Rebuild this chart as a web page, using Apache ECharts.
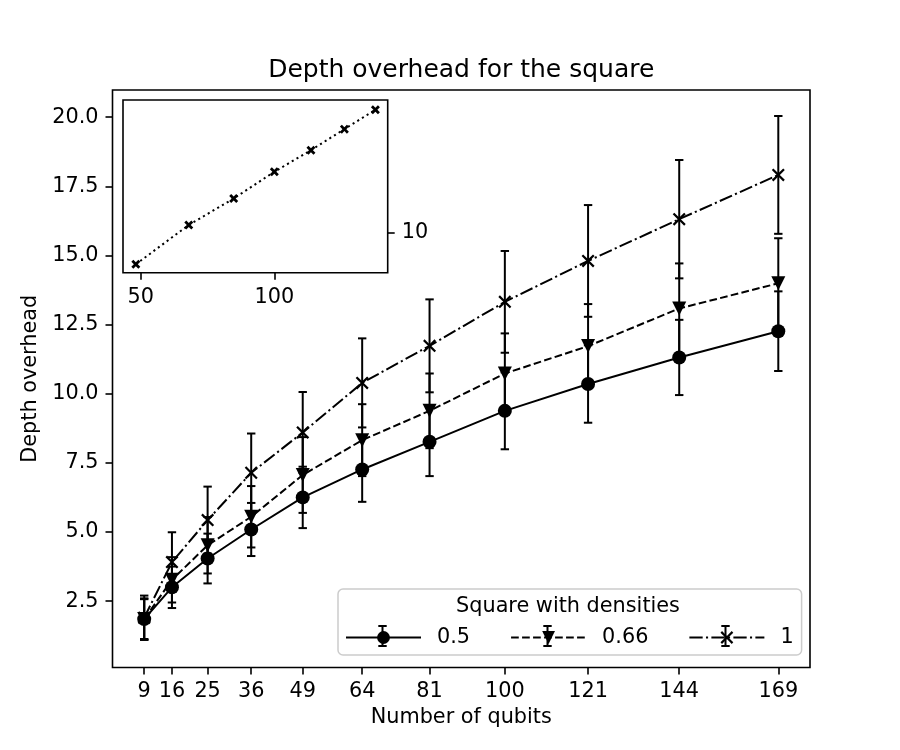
<!DOCTYPE html>
<html>
<head>
<meta charset="utf-8">
<script src="https://cdn.jsdelivr.net/npm/echarts@6/dist/echarts.min.js"></script>
<style>
  html, body { margin: 0; padding: 0; background: #fff; }
  #chart { width: 900px; height: 750px; }
</style>
</head>
<body>
<div id="chart"></div>
<script>
// qubit counts on the main x axis
const qubits = [9, 16, 25, 36, 49, 64, 81, 100, 121, 144, 169];
const yTicks = [2.5, 5, 7.5, 10, 12.5, 15, 17.5, 20];

// density 0.5
const mean05 = [1.85, 3.0, 4.04, 5.09, 6.25, 7.26, 8.26, 9.38, 10.35, 11.31, 12.26];
const err05 = [0.75, 0.75, 0.9, 0.96, 1.11, 1.17, 1.24, 1.39, 1.4, 1.36, 1.44];
// density 0.66
const mean066 = [1.85, 3.27, 4.52, 5.55, 7.06, 8.32, 9.38, 10.73, 11.72, 13.08, 13.99];
const err066 = [0.72, 0.82, 1.02, 1.11, 1.37, 1.3, 1.35, 1.45, 1.52, 1.63, 1.63];
// density 1
const mean1 = [1.9, 3.91, 5.43, 7.14, 8.6, 10.39, 11.73, 13.32, 14.8, 16.31, 17.91];
const err1 = [0.8, 1.08, 1.21, 1.42, 1.46, 1.61, 1.68, 1.84, 2.02, 2.14, 2.13];

// inset
const insetX = [48.2, 68, 84.8, 100, 113.7, 126.2, 137.8];
const insetY = [7.89, 10.51, 12.27, 14.05, 15.49, 16.89, 18.18];
const insetXTicks = [50, 100];
const insetYTicks = [10];

const FONT = "DejaVu Sans";
const FS = 20.8;

// thin x (matplotlib 'x') and bold X (matplotlib 'X')
const xMark = "path://M0,12L12,0L50,38L88,0L100,12L62,50L100,88L88,100L50,62L12,100L0,88L38,50Z";
const boldX = "path://M0,22L22,0L50,28L78,0L100,22L72,50L100,78L78,100L50,72L22,100L0,78L28,50Z";

const pairs = (xs, ys) => xs.map((x, i) => [x, ys[i]]);
const triples = (xs, ys, es) => xs.map((x, i) => [x, ys[i], es[i]]);

function renderErr(params, api) {
  const x = api.value(0), y = api.value(1), e = api.value(2);
  const top = api.coord([x, y + e]);
  const bot = api.coord([x, y - e]);
  const cap = 4.2;
  const st = { stroke: "#000", lineWidth: 2 };
  return {
    type: "group",
    children: [
      { type: "line", shape: { x1: top[0], y1: top[1], x2: bot[0], y2: bot[1] }, style: st },
      { type: "line", shape: { x1: top[0] - cap, y1: top[1], x2: top[0] + cap, y2: top[1] }, style: st },
      { type: "line", shape: { x1: bot[0] - cap, y1: bot[1], x2: bot[0] + cap, y2: bot[1] }, style: st },
    ],
  };
}

function errSeries(name, data) {
  return {
    name: name + " err",
    type: "custom",
    xAxisIndex: 0,
    yAxisIndex: 0,
    renderItem: renderErr,
    encode: { x: 0, y: 1 },
    data: data,
    z: 1,
    silent: true,
  };
}

function lineSeries(name, data, symbol, size, dash, rotate) {
  return {
    name: name,
    type: "line",
    xAxisIndex: 0,
    yAxisIndex: 0,
    data: data,
    symbol: symbol,
    symbolSize: size,
    symbolRotate: rotate || 0,
    showAllSymbol: true,
    lineStyle: { color: "#000", width: 2, type: dash },
    itemStyle: { color: "#000" },
    emphasis: { disabled: true },
    z: 3,
  };
}

// small error bar glyph through a legend handle
function legendBar(cx, cy) {
  const st = { stroke: "#000", lineWidth: 2 };
  const seg = (x1, y1, x2, y2) => ({ type: "line", z: 30, shape: { x1, y1, x2, y2 }, style: st });
  return [
    seg(cx, cy - 10, cx, cy + 10),
    seg(cx - 4.2, cy - 10, cx + 4.2, cy - 10),
    seg(cx - 4.2, cy + 10, cx + 4.2, cy + 10),
  ];
}

const chart = echarts.init(document.getElementById("chart"));

const axisCommon = {
  type: "value",
  splitLine: { show: false },
  axisLine: { show: false },
  axisTick: { show: true, length: 7, lineStyle: { color: "#000", width: 1.6 } },
  axisLabel: { color: "#000", fontFamily: FONT, fontSize: FS, margin: 14 },
};

const option = {
  animation: false,
  backgroundColor: "#fff",
  textStyle: { fontFamily: FONT },
  grid: [
    { left: 112.5, top: 90, width: 697.5, height: 577.5, show: true, borderColor: "#000", borderWidth: 1.6, backgroundColor: "#fff" },
    { left: 123, top: 100, width: 264.7, height: 172.7, show: true, borderColor: "#000", borderWidth: 1.6, backgroundColor: "#fff", z: 5 },
  ],
  xAxis: [
    Object.assign({}, axisCommon, {
      gridIndex: 0,
      min: 1,
      max: 177,
      name: "Number of qubits",
      nameLocation: "middle",
      nameGap: 40,
      nameTextStyle: { color: "#000", fontFamily: FONT, fontSize: FS },
      axisTick: Object.assign({}, axisCommon.axisTick, { customValues: qubits }),
      axisLabel: Object.assign({}, axisCommon.axisLabel, { customValues: qubits }),
    }),
    Object.assign({}, axisCommon, {
      gridIndex: 1,
      min: 43.4,
      max: 142.4,
      z: 6,
      axisTick: Object.assign({}, axisCommon.axisTick, { customValues: insetXTicks }),
      axisLabel: Object.assign({}, axisCommon.axisLabel, { customValues: insetXTicks }),
    }),
  ],
  yAxis: [
    Object.assign({}, axisCommon, {
      gridIndex: 0,
      min: 0.1,
      max: 20.98,
      name: "Depth overhead",
      nameLocation: "middle",
      nameGap: 65,
      nameTextStyle: { color: "#000", fontFamily: FONT, fontSize: FS },
      axisTick: Object.assign({}, axisCommon.axisTick, { customValues: yTicks }),
      axisLabel: Object.assign({}, axisCommon.axisLabel, {
        customValues: yTicks,
        formatter: (v) => v.toFixed(1),
      }),
    }),
    Object.assign({}, axisCommon, {
      gridIndex: 1,
      position: "right",
      min: 7.33,
      max: 18.83,
      z: 6,
      axisTick: Object.assign({}, axisCommon.axisTick, { customValues: insetYTicks }),
      axisLabel: Object.assign({}, axisCommon.axisLabel, { customValues: insetYTicks }),
    }),
  ],
  legend: {
    data: ["0.5", "0.66", "1"],
    left: 338,
    top: 589,
    orient: "horizontal",
    itemWidth: 75,
    itemHeight: 16,
    itemGap: 40,
    padding: [38, 8, 7, 7],
    backgroundColor: "rgba(255,255,255,0.8)",
    borderColor: "#ccc",
    borderWidth: 1.5,
    borderRadius: 5,
    textStyle: { color: "#000", fontFamily: FONT, fontSize: FS, padding: [0, 0, 0, 11] },
    selectedMode: false,
    z: 10,
  },
  graphic: [
    {
      type: "text",
      x: 461.25,
      y: 70,
      style: { text: "Depth overhead for the square", font: "25px " + FONT, fill: "#000", textAlign: "center", textVerticalAlign: "middle" },
    },
    {
      type: "text",
      x: 568,
      y: 607,
      z: 30,
      style: { text: "Square with densities", font: FS + "px " + FONT, fill: "#000", textAlign: "center", textVerticalAlign: "middle" },
    },
  ].concat(legendBar(382.5, 636), legendBar(547.5, 636), legendBar(725.5, 636)),
  series: [
    errSeries("0.5", triples(qubits, mean05, err05)),
    lineSeries("0.5", pairs(qubits, mean05), "circle", 14, "solid"),
    errSeries("0.66", triples(qubits, mean066, err066)),
    lineSeries("0.66", pairs(qubits, mean066), "triangle", 14, [7.7, 3.3], 180),
    errSeries("1", triples(qubits, mean1, err1)),
    lineSeries("1", pairs(qubits, mean1), xMark, 13, [13.3, 3.3, 2.1, 3.3]),
    {
      name: "inset",
      type: "line",
      xAxisIndex: 1,
      yAxisIndex: 1,
      data: pairs(insetX, insetY),
      symbol: boldX,
      symbolSize: 9,
      lineStyle: { color: "#000", width: 2, type: [2.1, 3.4] },
      itemStyle: { color: "#000" },
      emphasis: { disabled: true },
      z: 7,
    },
  ],
};

chart.setOption(option);
</script>
</body>
</html>
